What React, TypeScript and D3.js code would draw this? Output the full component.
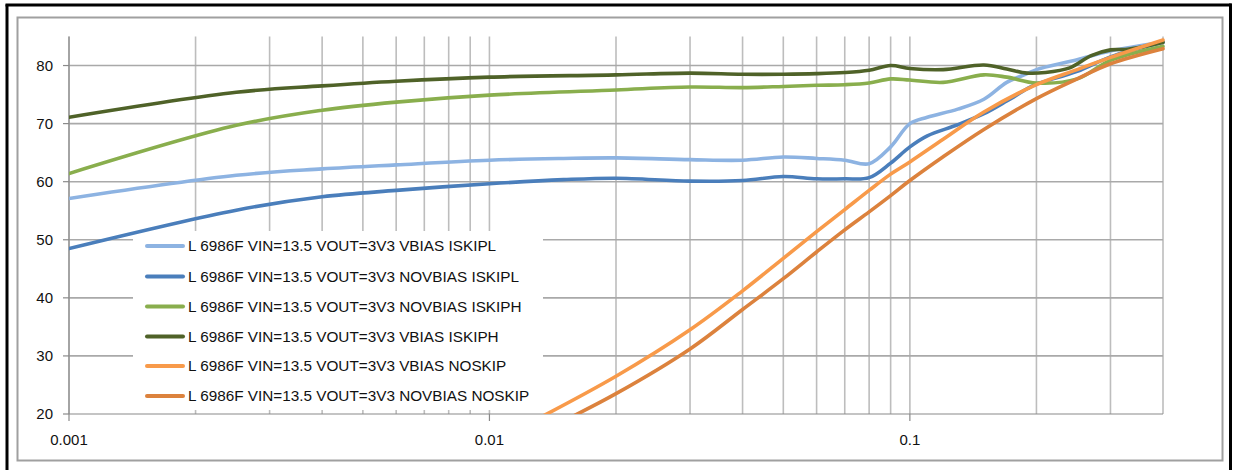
import React from "react";
import * as d3 from "d3";

// ---------- data ----------
const seriesNames = [
  "L 6986F VIN=13.5 VOUT=3V3 VBIAS ISKIPL",
  "L 6986F VIN=13.5 VOUT=3V3 NOVBIAS ISKIPL",
  "L 6986F VIN=13.5 VOUT=3V3 NOVBIAS ISKIPH",
  "L 6986F VIN=13.5 VOUT=3V3 VBIAS ISKIPH",
  "L 6986F VIN=13.5 VOUT=3V3 VBIAS NOSKIP",
  "L 6986F VIN=13.5 VOUT=3V3 NOVBIAS NOSKIP",
];
const seriesColors = ["#8db3e2", "#4a7ebb", "#89ae4d", "#4f6228", "#f89a4a", "#dc823d"];

const xTickValues = [0.001, 0.01, 0.1];
const xTickLabels = ["0.001", "0.01", "0.1"];
const yTickValues = [20, 30, 40, 50, 60, 70, 80];
const yGridValues = [30, 40, 50, 60, 70, 80];

const vbiasIskiplLoads = [0.001, 0.0025, 0.004, 0.006, 0.01, 0.015, 0.02, 0.03, 0.04, 0.05, 0.06, 0.07, 0.08, 0.09, 0.1, 0.11, 0.13, 0.15, 0.17, 0.19, 0.2, 0.25, 0.3, 0.4];
const vbiasIskiplEff = [57.1, 61.1, 62.2, 62.9, 63.7, 64.0, 64.1, 63.8, 63.7, 64.25, 64.0, 63.7, 63.1, 66.0, 70.0, 71.1, 72.5, 74.2, 77.1, 78.6, 79.3, 81.0, 82.5, 84.0];

const novbiasIskiplLoads = [0.001, 0.0025, 0.004, 0.006, 0.01, 0.015, 0.02, 0.03, 0.04, 0.05, 0.06, 0.07, 0.08, 0.09, 0.1, 0.11, 0.13, 0.15, 0.17, 0.19, 0.2, 0.25, 0.3, 0.4];
const novbiasIskiplEff = [48.5, 55.1, 57.4, 58.5, 59.65, 60.35, 60.6, 60.1, 60.2, 60.9, 60.5, 60.5, 60.7, 63.2, 66.0, 67.9, 69.8, 71.7, 73.9, 76.0, 76.8, 79.0, 81.5, 84.0];

const novbiasIskiphLoads = [0.001, 0.0025, 0.004, 0.006, 0.01, 0.02, 0.03, 0.04, 0.05, 0.06, 0.07, 0.08, 0.09, 0.1, 0.12, 0.15, 0.17, 0.2, 0.25, 0.3, 0.4];
const novbiasIskiphEff = [61.4, 69.7, 72.3, 73.7, 74.9, 75.8, 76.3, 76.2, 76.4, 76.6, 76.7, 77.0, 77.7, 77.5, 77.1, 78.4, 78.0, 77.0, 77.7, 80.9, 83.3];

const vbiasIskiphLoads = [0.001, 0.0025, 0.004, 0.006, 0.01, 0.02, 0.03, 0.04, 0.05, 0.06, 0.07, 0.08, 0.09, 0.1, 0.12, 0.15, 0.17, 0.19, 0.21, 0.24, 0.27, 0.3, 0.33, 0.4];
const vbiasIskiphEff = [71.1, 75.4, 76.5, 77.3, 78.0, 78.4, 78.7, 78.5, 78.5, 78.6, 78.8, 79.2, 80.0, 79.5, 79.3, 80.1, 79.4, 78.7, 78.8, 79.6, 81.7, 82.7, 82.8, 84.0];

const vbiasNoskipLoads = [0.0125, 0.02, 0.03, 0.04, 0.05, 0.06, 0.07, 0.08, 0.09, 0.1, 0.12, 0.15, 0.2, 0.25, 0.3, 0.4];
const vbiasNoskipEff = [18.5, 26.5, 34.5, 41.2, 46.8, 51.4, 55.2, 58.5, 61.3, 63.4, 67.3, 72.0, 76.7, 79.3, 81.4, 84.4];

const novbiasNoskipLoads = [0.015, 0.02, 0.03, 0.04, 0.05, 0.06, 0.07, 0.08, 0.09, 0.1, 0.12, 0.15, 0.2, 0.25, 0.3, 0.4];
const novbiasNoskipEff = [18.8, 23.5, 31.2, 38.0, 43.3, 47.9, 51.7, 54.8, 57.6, 60.2, 64.3, 69.0, 74.3, 77.7, 80.3, 82.9];

const seriesLoads = [vbiasIskiplLoads, novbiasIskiplLoads, novbiasIskiphLoads, vbiasIskiphLoads, vbiasNoskipLoads, novbiasNoskipLoads];
const seriesEff = [vbiasIskiplEff, novbiasIskiplEff, novbiasIskiphEff, vbiasIskiphEff, vbiasNoskipEff, novbiasNoskipEff];

// ---------- layout ----------
const W = 1233;
const H = 470;
const plotL = 69;
const plotR = 1163;
const plotT = 36.5;
const plotB = 414;

export default function App() {
  const x = d3.scaleLog().domain([0.001, 0.4]).range([plotL, plotR]);
  const y = d3.scaleLinear().domain([20, 85]).range([plotB, plotT]);

  const minorX: number[] = [];
  [0.001, 0.01, 0.1].forEach((d) => {
    for (let k = 1; k <= 9; k++) {
      const v = k * d;
      if (v <= 0.4 + 1e-9) minorX.push(v);
    }
  });

  const line = d3
    .line<[number, number]>()
    .x((p) => x(p[0]))
    .y((p) => y(p[1]))
    .curve(d3.curveCatmullRom.alpha(0.5));

  const font = "'Liberation Sans', Arial, sans-serif";
  const legendRowY = [246, 276.5, 306.5, 336.5, 366, 396];

  return (
    <svg
      width={W}
      height={H}
      style={{ position: "absolute", left: 0, top: 0, background: "#fff" }}
      fontFamily={font}
    >
      <defs>
        <clipPath id="plotClip">
          <rect x={plotL} y={plotT - 5} width={plotR - plotL + 4} height={plotB - plotT + 5} />
        </clipPath>
      </defs>
      <rect x={0} y={0} width={W} height={H} fill="#fff" />
      {/* outer black page border */}
      <line x1={7} y1={4.5} x2={7} y2={H} stroke="#000" strokeWidth={3} />
      <line x1={5.5} y1={5} x2={1231.5} y2={5} stroke="#000" strokeWidth={3} />
      <line x1={1230.5} y1={3.5} x2={1230.5} y2={H} stroke="#000" strokeWidth={3} />
      {/* chart frame */}
      <rect x={17.5} y={17.5} width={1205} height={443} fill="#fff" stroke="#a0a0a0" strokeWidth={2} />

      {/* vertical gridlines */}
      {minorX.map((v, i) => (
        <line key={"vx" + i} x1={x(v)} x2={x(v)} y1={plotT} y2={plotB} stroke="#bdbdbd" strokeWidth={1.6} />
      ))}
      {/* horizontal gridlines */}
      {yGridValues.map((v) => (
        <line key={"hy" + v} x1={plotL} x2={plotR} y1={y(v)} y2={y(v)} stroke="#a9a9a9" strokeWidth={1.6} />
      ))}

      {/* legend background */}
      <rect x={133} y={231} width={410} height={179} fill="#fff" />

      {/* axes */}
      <line x1={plotL} x2={plotL} y1={plotT} y2={plotB} stroke="#8a8a8a" strokeWidth={1.2} />
      <line x1={plotL} x2={plotR} y1={plotB} y2={plotB} stroke="#8a8a8a" strokeWidth={1.2} />
      {yTickValues.map((v) => (
        <g key={"yt" + v}>
          <line x1={plotL - 6} x2={plotL} y1={y(v)} y2={y(v)} stroke="#8a8a8a" strokeWidth={1.2} />
          <text x={53} y={y(v)} dy="0.35em" textAnchor="end" fontSize={15} fill="#111">
            {v}
          </text>
        </g>
      ))}
      {xTickValues.map((v, i) => (
        <g key={"xt" + i}>
          <line x1={x(v)} x2={x(v)} y1={plotB} y2={plotB + 7} stroke="#8a8a8a" strokeWidth={1.2} />
          <text x={x(v)} y={445} textAnchor="middle" fontSize={15} fill="#111">
            {xTickLabels[i]}
          </text>
        </g>
      ))}

      {/* series */}
      <g clipPath="url(#plotClip)">
        {seriesNames.map((name, i) => {
          const pts = seriesLoads[i].map((l, j) => [l, seriesEff[i][j]] as [number, number]);
          return (
            <path
              key={name}
              d={line(pts) || ""}
              fill="none"
              stroke={seriesColors[i]}
              strokeWidth={3.6}
              strokeLinejoin="round"
              strokeLinecap="round"
            />
          );
        })}
      </g>

      {/* legend entries */}
      {seriesNames.map((name, i) => (
        <g key={"lg" + i}>
          <line x1={147} x2={183} y1={legendRowY[i]} y2={legendRowY[i]} stroke={seriesColors[i]} strokeWidth={4} strokeLinecap="round" />
          <text x={188} y={legendRowY[i]} dy="0.35em" fontSize={15.3} fill="#111">
            {name}
          </text>
        </g>
      ))}
    </svg>
  );
}
